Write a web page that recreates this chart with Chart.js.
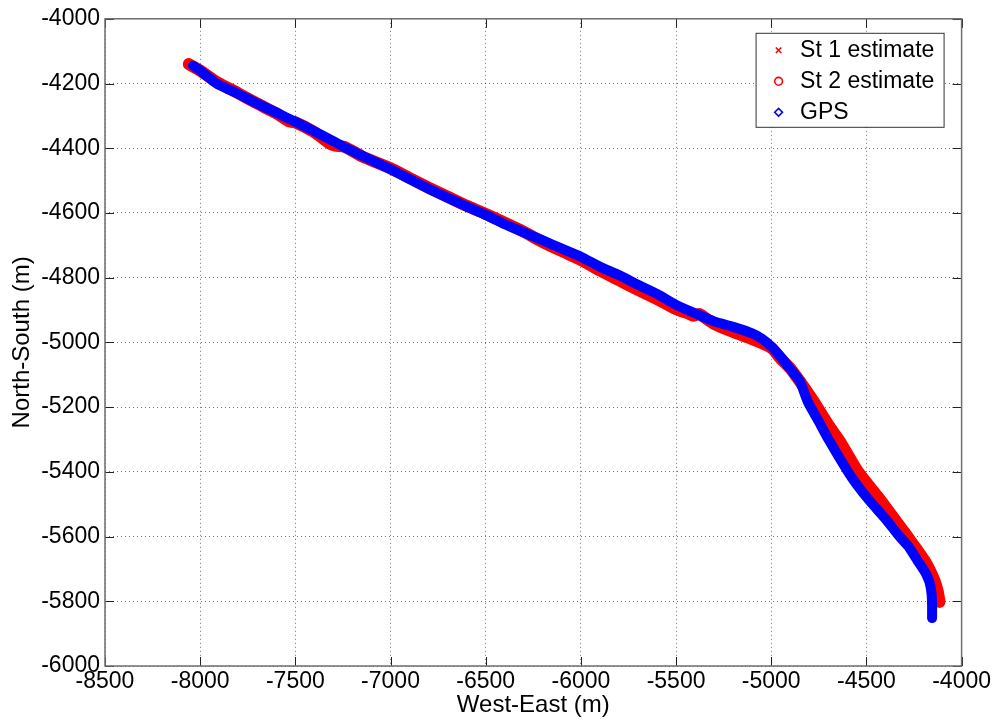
<!DOCTYPE html>
<html>
<head>
<meta charset="utf-8">
<script src="https://cdn.jsdelivr.net/npm/chart.js@4.4.1/dist/chart.umd.min.js"></script>
<style>
html,body{margin:0;padding:0;background:#ffffff;}
canvas{display:block;}
</style>
</head>
<body>
<canvas id="c" width="993" height="723"></canvas>
<script>
// ---- tick labels ----
const xTicks = [-8500, -8000, -7500, -7000, -6500, -6000, -5500, -5000, -4500, -4000];
const yTicks = [-6000, -5800, -5600, -5400, -5200, -5000, -4800, -4600, -4400, -4200, -4000];

// ---- series names ----
const seriesNames = ['St 1 estimate', 'St 2 estimate', 'GPS'];
const axisTitles = ['West-East (m)', 'North-South (m)'];

// ---- St 1 estimate (red x) ----
const st1X = [-8060,-8000,-7914,-7800,-7700,-7600,-7530,-7500,-7400,-7320,-7290,-7240,-7150,-7000,-6900,-6800,-6700,-6600,-6500,-6400,-6300,-6200,-6100,-6000,-5900,-5800,-5700,-5600,-5500,-5430,-5410,-5380,-5300,-5200,-5100,-5000,-4950,-4900,-4850,-4780,-4700,-4640,-4547,-4440,-4360,-4284,-4195,-4143,-4125,-4116];
const st1Y = [-4140,-4160,-4195,-4230,-4262,-4292,-4318,-4320,-4350,-4385,-4392,-4396,-4425,-4462,-4492,-4522,-4550,-4578,-4603,-4630,-4658,-4690,-4718,-4745,-4778,-4808,-4838,-4866,-4897,-4912,-4918,-4912,-4943,-4968,-4990,-5017,-5050,-5080,-5120,-5180,-5255,-5305,-5397,-5477,-5540,-5600,-5674,-5735,-5770,-5802];

// ---- St 2 estimate (red o) ----
const st2X = [-8050,-7950,-7850,-7700,-7520,-7400,-7300,-7150,-7000,-6800,-6600,-6400,-6200,-6000,-5800,-5600,-5420,-5300,-5100,-5000,-4920,-4820,-4700,-4600,-4500,-4400,-4300,-4200,-4150,-4118];
const st2Y = [-4142,-4180,-4213,-4262,-4318,-4351,-4388,-4426,-4463,-4521,-4577,-4629,-4689,-4745,-4808,-4866,-4916,-4944,-4991,-5018,-5068,-5145,-5255,-5350,-5437,-5510,-5585,-5668,-5730,-5798];

// ---- GPS (blue diamonds) ----
const gpsX = [-8038,-8000,-7914,-7800,-7700,-7600,-7500,-7400,-7300,-7231,-7100,-7000,-6900,-6800,-6700,-6600,-6500,-6400,-6300,-6200,-6100,-6000,-5900,-5800,-5700,-5600,-5500,-5400,-5300,-5200,-5100,-5050,-5000,-4950,-4904,-4850,-4809,-4750,-4694,-4600,-4550,-4484,-4400,-4326,-4280,-4232,-4190,-4169,-4158,-4155,-4155];
const gpsY = [-4145,-4160,-4200,-4232,-4262,-4290,-4318,-4348,-4378,-4400,-4437,-4465,-4495,-4525,-4553,-4580,-4606,-4635,-4660,-4685,-4710,-4735,-4766,-4792,-4822,-4850,-4884,-4910,-4935,-4952,-4972,-4988,-5012,-5045,-5079,-5120,-5182,-5245,-5305,-5397,-5440,-5489,-5545,-5600,-5630,-5674,-5712,-5740,-5775,-5810,-5852];

const pairs = (xs, ys) => xs.map((x, i) => ({x: x, y: ys[i]}));

const RED = '#ff0000', BLUE = '#0000ff';
const FONT = "'Liberation Sans', Arial, Helvetica, sans-serif";

// inward tick marks + axes box (MATLAB style)
const framePlugin = {
  id: 'frame',
  afterDatasetsDraw(chart) {
    const {ctx, chartArea: a, scales} = chart;
    const L = 9;
    ctx.save();
    ctx.strokeStyle = '#222';
    ctx.lineWidth = 1;
    ctx.beginPath();
    xTicks.forEach(v => {
      const px = Math.round(scales.x.getPixelForValue(v)) + 0.5;
      ctx.moveTo(px, a.bottom); ctx.lineTo(px, a.bottom - L);
      ctx.moveTo(px, a.top); ctx.lineTo(px, a.top + L);
    });
    yTicks.forEach(v => {
      const py = Math.round(scales.y.getPixelForValue(v)) + 0.5;
      ctx.moveTo(a.left, py); ctx.lineTo(a.left + L, py);
      ctx.moveTo(a.right, py); ctx.lineTo(a.right - L, py);
    });
    ctx.stroke();
    ctx.strokeStyle = '#6e6e6e';
    ctx.lineWidth = 1.5;
    ctx.strokeRect(a.left, a.top, a.right - a.left, a.bottom - a.top);
    ctx.restore();
  }
};

// legend placed inside the axes, top-right, with white box + border
const legendBoxPlugin = {
  id: 'legendBox',
  afterLayout(chart) {
    const lg = chart.legend, a = chart.chartArea;
    if (!lg) return;
    lg.left = a.right - 201;
    lg.top = a.top + 12;
    lg.right = a.right - 18;
    lg.bottom = lg.top + 120;
    lg.width = lg.right - lg.left;
    lg.height = lg.bottom - lg.top;
  },
  afterDraw(chart) {
    const ctx = chart.ctx, a = chart.chartArea;
    const bx = a.right - 206, by = a.top + 14, bw = 188, bh = 94;
    ctx.save();
    ctx.fillStyle = '#ffffff';
    ctx.fillRect(bx, by, bw, bh);
    ctx.strokeStyle = '#333';
    ctx.lineWidth = 1;
    ctx.strokeRect(bx + 0.5, by + 0.5, bw, bh);
    ctx.restore();
    chart.legend.draw();
  }
};

const ctx = document.getElementById('c').getContext('2d');
new Chart(ctx, {
  type: 'scatter',
  data: {
    datasets: [
      {
        label: seriesNames[0],
        data: pairs(st1X, st1Y),
        showLine: true,
        borderColor: RED,
        backgroundColor: RED,
        borderWidth: 12,
        borderCapStyle: 'round',
        borderJoinStyle: 'round',
        tension: 0.2,
        pointStyle: 'crossRot',
        pointRadius: 3,
        pointBorderWidth: 1.5,
        pointBorderColor: RED,
        order: 2
      },
      {
        label: seriesNames[1],
        data: pairs(st2X, st2Y),
        showLine: false,
        borderColor: RED,
        backgroundColor: 'rgba(0,0,0,0)',
        pointStyle: 'circle',
        pointRadius: 3.5,
        pointBorderWidth: 1.5,
        pointBorderColor: RED,
        order: 1
      },
      {
        label: seriesNames[2],
        data: pairs(gpsX, gpsY),
        showLine: true,
        borderColor: BLUE,
        backgroundColor: 'rgba(0,0,0,0)',
        borderWidth: 10,
        borderCapStyle: 'round',
        borderJoinStyle: 'round',
        tension: 0.2,
        pointStyle: 'rectRot',
        pointRadius: 4,
        pointBorderWidth: 1.2,
        pointBorderColor: BLUE,
        order: 0
      }
    ]
  },
  options: {
    responsive: false,
    animation: false,
    devicePixelRatio: 1,
    layout: {padding: {left: 0, top: 16, right: 31, bottom: 0}},
    plugins: {
      tooltip: {enabled: false},
      title: {display: false},
      legend: {
        display: true,
        position: 'chartArea',
        align: 'start',
        labels: {
          usePointStyle: true,
          boxWidth: 20,
          boxHeight: 5.5,
          padding: 8,
          color: '#000',
          font: {family: FONT, size: 23},
          generateLabels(chart) {
            return chart.data.datasets.map((ds, i) => ({
              text: ds.label,
              datasetIndex: i,
              pointStyle: ds.pointStyle,
              strokeStyle: ds.borderColor,
              fillStyle: 'rgba(0,0,0,0)',
              lineWidth: 1.6,
              fontColor: '#000',
              hidden: !chart.isDatasetVisible(i)
            }));
          }
        }
      }
    },
    scales: {
      x: {
        type: 'linear',
        min: xTicks[0],
        max: xTicks[xTicks.length - 1],
        afterFit(s) { s.height = 57; },
        afterBuildTicks(s) { s.ticks = xTicks.map(v => ({value: v})); },
        grid: {color: 'rgba(0,0,0,0.55)', lineWidth: 1, drawTicks: false},
        border: {display: false, dash: [1, 3]},
        ticks: {
          color: '#000',
          padding: 2,
          maxRotation: 0,
          autoSkip: false,
          font: {family: FONT, size: 23},
          callback: v => String(v)
        },
        title: {
          display: true,
          text: axisTitles[0],
          color: '#000',
          font: {family: FONT, size: 24},
          padding: {top: 0, bottom: 3}
        }
      },
      y: {
        type: 'linear',
        min: yTicks[0],
        max: yTicks[yTicks.length - 1],
        afterFit(s) { s.width = 105; },
        afterBuildTicks(s) { s.ticks = yTicks.map(v => ({value: v})); },
        grid: {color: 'rgba(0,0,0,0.55)', lineWidth: 1, drawTicks: false},
        border: {display: false, dash: [1, 3]},
        ticks: {
          color: '#000',
          padding: 5,
          autoSkip: false,
          font: {family: FONT, size: 23},
          callback: v => String(v)
        },
        title: {
          display: true,
          text: axisTitles[1],
          color: '#000',
          font: {family: FONT, size: 24},
          padding: {top: 8, bottom: 0}
        }
      }
    }
  },
  plugins: [framePlugin, legendBoxPlugin]
});
</script>
</body>
</html>
